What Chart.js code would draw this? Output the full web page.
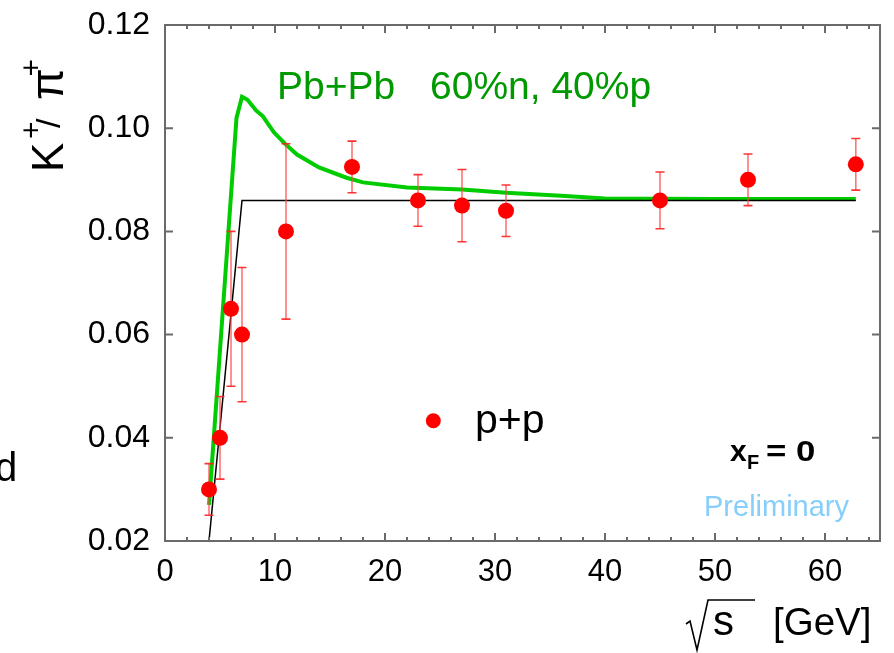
<!DOCTYPE html>
<html><head><meta charset="utf-8">
<script src="https://cdn.jsdelivr.net/npm/chart.js@4.4.1/dist/chart.umd.min.js"></script>
<style>html,body{margin:0;padding:0;background:#fff;} canvas{display:block;}</style>
</head><body>
<canvas id="c" width="894" height="653"></canvas>
<script>
// p+p data points: sqrt(s) [GeV], K+/pi+ ratio, error bar ends
const sqrtS   = [4.0, 5.0, 6.0, 7.0, 11.0, 17.0, 23.0, 27.0, 31.0, 45.0, 53.0, 62.8];
const ratio   = [0.030, 0.040, 0.065, 0.060, 0.080, 0.0925, 0.086, 0.085, 0.084, 0.086, 0.090, 0.093];
const errHigh = [0.035, 0.048, 0.080, 0.073, 0.097, 0.0975, 0.091, 0.092, 0.089, 0.0915, 0.095, 0.098];
const errLow  = [0.025, 0.032, 0.050, 0.047, 0.063, 0.0875, 0.081, 0.078, 0.079, 0.0805, 0.085, 0.088];

// Pb+Pb model curve (green)
const pbX = [4.0, 6.5, 7.0, 7.5, 8.3, 8.9, 9.9, 10.9, 12.0, 14.0, 16.5, 18.0, 22.0, 27.0, 31.0, 36.0, 40.0, 50.0, 62.8];
const pbY = [0.027, 0.102, 0.1061, 0.1055, 0.1034, 0.1023, 0.0992, 0.097, 0.0949, 0.0924, 0.0904, 0.0895, 0.0885, 0.0881, 0.0875, 0.0869, 0.0864, 0.0863, 0.0863];

// reference line (black)
const refX = [4.0, 7.0, 62.8];
const refY = [0.02, 0.086, 0.086];

// axis ticks
const xMajorTicks = [0, 10, 20, 30, 40, 50, 60];
const yMajorTicks = [0.02, 0.04, 0.06, 0.08, 0.10, 0.12];

const FONT = '"Liberation Sans", Arial, Helvetica, sans-serif';
const AXIS_COLOR = '#6a6a6a';

const deco = {
  id: 'deco',
  beforeDatasetDraw(chart, args) {
    if (args.index !== 2) return;
    const ctx = chart.ctx, xs = chart.scales.x, ys = chart.scales.y;
    ctx.save();
    for (let i = 0; i < sqrtS.length; i++) {
      const px = xs.getPixelForValue(sqrtS[i]);
      const pt = ys.getPixelForValue(errHigh[i]);
      const pb = ys.getPixelForValue(errLow[i]);
      ctx.strokeStyle = 'rgba(255,70,70,0.75)';
      ctx.lineWidth = 1.6;
      ctx.beginPath(); ctx.moveTo(px, pt); ctx.lineTo(px, pb); ctx.stroke();
      ctx.strokeStyle = 'rgba(255,30,30,0.9)';
      ctx.beginPath();
      ctx.moveTo(px - 4.5, pt); ctx.lineTo(px + 4.5, pt);
      ctx.moveTo(px - 4.5, pb); ctx.lineTo(px + 4.5, pb);
      ctx.stroke();
    }
    ctx.restore();
  },
  afterDraw(chart) {
    const ctx = chart.ctx, xs = chart.scales.x, ys = chart.scales.y;
    const a = chart.chartArea;
    ctx.save();
    // frame
    ctx.strokeStyle = AXIS_COLOR; ctx.lineWidth = 2;
    ctx.strokeRect(a.left, a.top, a.right - a.left, a.bottom - a.top);
    // ticks, drawn inward on all four sides
    ctx.beginPath();
    for (let v = 0; v <= 64; v += 2) {
      const px = xs.getPixelForValue(v);
      const len = xMajorTicks.includes(v) ? 8 : 4;
      ctx.moveTo(px, a.bottom); ctx.lineTo(px, a.bottom - len);
      ctx.moveTo(px, a.top); ctx.lineTo(px, a.top + len);
    }
    for (const v of yMajorTicks) {
      const py = ys.getPixelForValue(v);
      ctx.moveTo(a.left, py); ctx.lineTo(a.left + 8, py);
      ctx.moveTo(a.right, py); ctx.lineTo(a.right - 8, py);
    }
    ctx.stroke();

    ctx.textBaseline = 'alphabetic';
    ctx.textAlign = 'left';
    // Pb+Pb annotation
    ctx.fillStyle = '#009a00';
    ctx.font = `39px ${FONT}`;
    ctx.fillText('Pb+Pb', 277, 99);
    ctx.fillText('60%n, 40%p', 430, 99);

    // p+p legend
    ctx.fillStyle = '#ff0000';
    ctx.beginPath(); ctx.arc(433.3, 420.7, 7.5, 0, Math.PI * 2); ctx.fill();
    ctx.fillStyle = '#000';
    ctx.font = `41px ${FONT}`;
    ctx.fillText('p+p', 475, 433);

    // x_F = 0
    ctx.font = `bold 30px ${FONT}`;
    ctx.fillText('x', 730, 461);
    ctx.font = `bold 20px ${FONT}`;
    ctx.fillText('F', 747, 469);
    ctx.save();
    ctx.translate(766, 461);
    ctx.scale(1.2, 1);
    ctx.font = `bold 29px ${FONT}`;
    ctx.fillText('=', 0, 0);
    ctx.fillText('0', 25, 0);
    ctx.restore();

    // Preliminary
    ctx.fillStyle = '#87cefa';
    ctx.font = `29px ${FONT}`;
    ctx.fillText('Preliminary', 704, 516);

    // stray letter on left edge
    ctx.fillStyle = '#000';
    ctx.font = `40px ${FONT}`;
    ctx.fillText('d', -5, 481);

    // x title: sqrt(s) [GeV]
    ctx.font = `42px ${FONT}`;
    ctx.fillText('s', 713, 635);
    ctx.font = `38.5px ${FONT}`;
    ctx.fillText('[GeV]', 773, 635);
    ctx.strokeStyle = '#000'; ctx.lineWidth = 1.6;
    ctx.beginPath();
    ctx.moveTo(686, 624); ctx.lineTo(690, 621);
    ctx.lineTo(697, 650); ctx.lineTo(708, 600); ctx.lineTo(755, 600);
    ctx.stroke();

    // y title: K+/pi+
    ctx.translate(62.7, 170);
    ctx.rotate(-Math.PI / 2);
    ctx.font = `44px ${FONT}`;
    ctx.fillText('K', -2, 0);
    ctx.font = `30px ${FONT}`;
    ctx.fillText('+', 31, -22);
    ctx.font = `34px ${FONT}`;
    ctx.fillText('/', 42, -3);
    ctx.font = `46px ${FONT}`;
    ctx.fillText('π', 70, 0);
    ctx.font = `30px ${FONT}`;
    ctx.fillText('+', 93.5, -22);
    ctx.restore();
  }
};

new Chart(document.getElementById('c'), {
  type: 'scatter',
  data: {
    datasets: [
      { label: 'Pb+Pb 60%n, 40%p', data: pbX.map((x, i) => ({ x, y: pbY[i] })), showLine: true,
        borderColor: '#00cc00', borderWidth: 4, pointRadius: 0, tension: 0, order: 3 },
      { label: 'reference', data: refX.map((x, i) => ({ x, y: refY[i] })), showLine: true,
        borderColor: '#000000', borderWidth: 1.5, pointRadius: 0, tension: 0, order: 2 },
      { label: 'p+p', data: sqrtS.map((x, i) => ({ x, y: ratio[i] })),
        backgroundColor: '#ff0000', borderWidth: 0, pointRadius: 8, order: 1 }
    ]
  },
  options: {
    responsive: false, animation: false, devicePixelRatio: 1,
    layout: { padding: { top: 25, right: 14, left: 0, bottom: 0 } },
    plugins: { legend: { display: false }, tooltip: { enabled: false } },
    scales: {
      x: {
        type: 'linear', min: 0, max: 65,
        grid: { display: false, drawTicks: false }, border: { display: false },
        ticks: { stepSize: 10, includeBounds: false, padding: 13, color: '#000', maxRotation: 0,
                 font: { family: FONT, size: 31 } },
        afterFit(s) { s.height = 112; }
      },
      y: {
        type: 'linear', min: 0.02, max: 0.12,
        grid: { display: false, drawTicks: false }, border: { display: false },
        ticks: { stepSize: 0.02, includeBounds: false, padding: 15, color: '#000',
                 font: { family: FONT, size: 32, lineHeight: 0.5 }, callback: v => v.toFixed(2) },
        afterFit(s) { s.width = 165; }
      }
    }
  },
  plugins: [deco]
});
</script>
</body></html>
